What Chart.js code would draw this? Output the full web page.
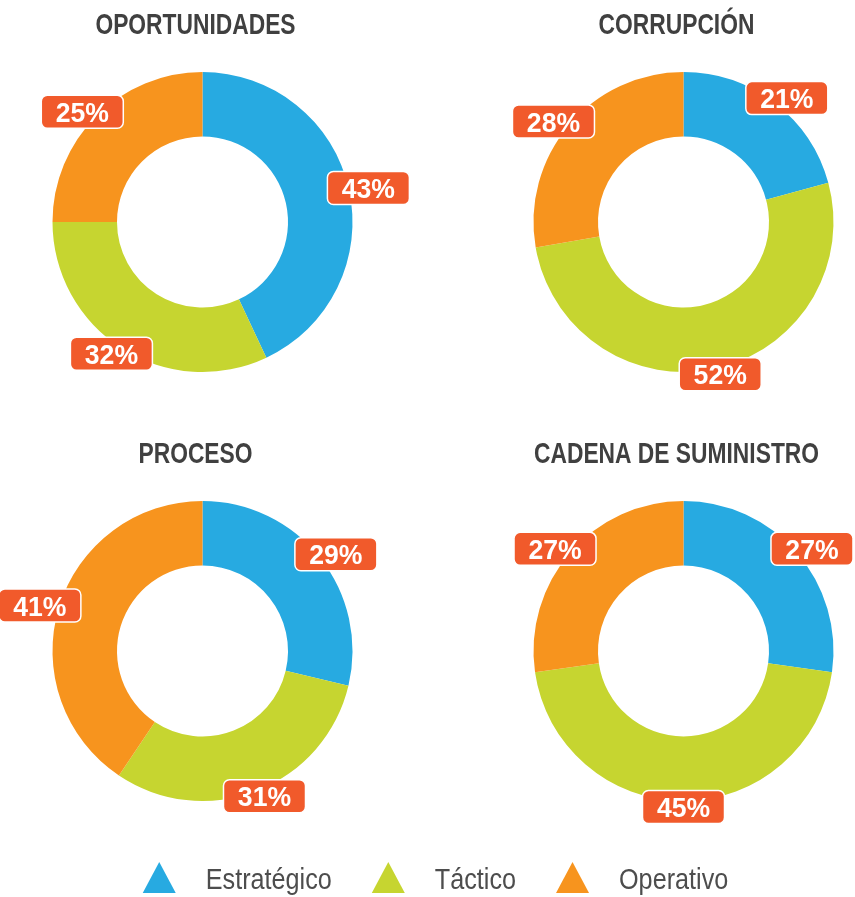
<!DOCTYPE html>
<html lang="es">
<head>
    <meta charset="UTF-8">
    <title>Riesgos por nivel</title>
    <script src="https://cdn.jsdelivr.net/npm/chart.js"></script>
    <style>
        html, body { margin: 0; padding: 0; background: #fff; overflow: hidden; }
        #lienzo { position: relative; width: 855px; height: 897px; overflow: hidden; }
        .celda { position: absolute; width: 430px; height: 420px; }
        .celda canvas { width: 430px !important; height: 420px !important; }
        #leyenda { position: absolute; left: 0; top: 850px; }
    </style>
</head>
<body>
<div id="lienzo">
    <div class="celda" style="left:0;top:0"><canvas id="g1" width="430" height="420"></canvas></div>
    <div class="celda" style="left:481px;top:0"><canvas id="g2" width="430" height="420"></canvas></div>
    <div class="celda" style="left:0;top:429px"><canvas id="g3" width="430" height="420"></canvas></div>
    <div class="celda" style="left:481px;top:429px"><canvas id="g4" width="430" height="420"></canvas></div>
    <canvas id="leyenda" width="855" height="47"></canvas>
</div>

<script>
    const categorias = ['Estratégico', 'Táctico', 'Operativo'];
    const titulos = ['OPORTUNIDADES', 'CORRUPCIÓN', 'PROCESO', 'CADENA DE SUMINISTRO'];
    const oportunidades = [43, 32, 25];
    const corrupcion = [21, 52, 28];
    const proceso = [29, 31, 41];
    const cadena = [27, 45, 27];
    const colores = ['#27AAE1', '#C6D530', '#F7941E'];

    const series = [oportunidades, corrupcion, proceso, cadena];
    const FUENTE = '"Liberation Sans", Arial, sans-serif';

    // título condensado encima de cada dona
    const titulo = {
        id: 'titulo',
        afterDraw(chart, args, opts) {
            const ctx = chart.ctx;
            const area = chart.chartArea;
            ctx.save();
            ctx.translate((area.left + area.right) / 2 - 7, 34);
            ctx.scale(0.76, 1);
            ctx.fillStyle = '#404040';
            ctx.font = 'bold 30px ' + FUENTE;
            ctx.textAlign = 'center';
            ctx.textBaseline = 'alphabetic';
            ctx.fillText(opts.text, 0, 0);
            ctx.restore();
        }
    };

    // etiqueta de porcentaje junto al borde exterior de cada segmento
    const etiquetas = {
        id: 'etiquetas',
        afterDatasetsDraw(chart) {
            const ctx = chart.ctx;
            const meta = chart.getDatasetMeta(0);
            const valores = chart.data.datasets[0].data;
            ctx.save();
            meta.data.forEach((arco, i) => {
                const a = (arco.startAngle + arco.endAngle) / 2;
                const x = arco.x + Math.cos(a) * (arco.outerRadius + 20);
                const y = arco.y + Math.sin(a) * (arco.outerRadius + 6);
                const w = 82, h = 33;
                ctx.beginPath();
                ctx.roundRect(x - w / 2, y - h / 2, w, h, 6);
                ctx.fillStyle = '#F15A2B';
                ctx.fill();
                ctx.lineWidth = 1.5;
                ctx.strokeStyle = '#ffffff';
                ctx.stroke();
                ctx.save();
                ctx.translate(x, y + 10);
                ctx.scale(0.95, 1);
                ctx.fillStyle = '#ffffff';
                ctx.font = 'bold 28px ' + FUENTE;
                ctx.textAlign = 'center';
                ctx.textBaseline = 'alphabetic';
                ctx.fillText(valores[i] + '%', 0, 0);
                ctx.restore();
            });
            ctx.restore();
        }
    };

    series.forEach((datos, n) => {
        new Chart(document.getElementById('g' + (n + 1)), {
            type: 'doughnut',
            data: {
                labels: categorias,
                datasets: [{
                    data: datos,
                    backgroundColor: colores,
                    borderWidth: 0
                }]
            },
            options: {
                responsive: false,
                animation: false,
                cutout: '57%',
                layout: { padding: { top: 72, bottom: 48, left: 0, right: 25 } },
                plugins: {
                    legend: { display: false },
                    tooltip: { enabled: false },
                    titulo: { text: titulos[n] }
                }
            },
            plugins: [titulo, etiquetas]
        });
    });

    // leyenda compartida con triángulos
    const cl = document.getElementById('leyenda').getContext('2d');
    const escala = 0.84;
    cl.font = '30px ' + FUENTE;
    const anchos = categorias.map(c => cl.measureText(c).width * escala);
    const triW = 33, triH = 31, sep = 30, hueco = 40;
    const total = anchos.reduce((s, w) => s + triW + sep + w, 0) + hueco * (categorias.length - 1);
    let x = 435.5 - total / 2;
    categorias.forEach((c, i) => {
        cl.beginPath();
        cl.moveTo(x, 43);
        cl.lineTo(x + triW / 2, 43 - triH);
        cl.lineTo(x + triW, 43);
        cl.closePath();
        cl.fillStyle = colores[i];
        cl.fill();
        x += triW + sep;
        cl.save();
        cl.translate(x, 39);
        cl.scale(escala, 1);
        cl.fillStyle = '#4d4d4d';
        cl.font = '30px ' + FUENTE;
        cl.textBaseline = 'alphabetic';
        cl.fillText(c, 0, 0);
        cl.restore();
        x += anchos[i] + hueco;
    });
</script>
</body>
</html>
